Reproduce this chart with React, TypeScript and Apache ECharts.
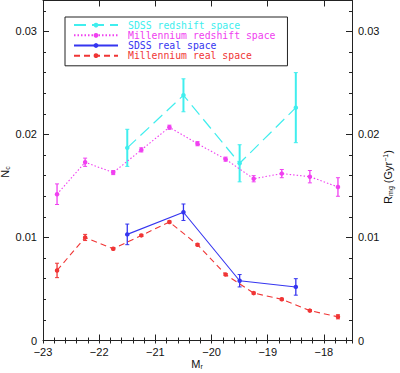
import React, { useEffect, useRef } from "react";
import * as echarts from "echarts";

const xMill = [-22.75, -22.25, -21.75, -21.25, -20.75, -20.25, -19.75, -19.25, -18.75, -18.25, -17.75];
const millRedshift = [0.0142, 0.0173, 0.0163, 0.0185, 0.0207, 0.0191, 0.0176, 0.0157, 0.0162, 0.0159, 0.0149];
const millRedshiftErr = [0.001, 0.0004, 0.0002, 0.0002, 0.0002, 0.0002, 0.0002, 0.0003, 0.0004, 0.0006, 0.0009];
const millReal = [0.0068, 0.01, 0.0089, 0.0102, 0.0115, 0.0093, 0.0064, 0.0046, 0.004, 0.0029, 0.0023];
const millRealErr = [0.0007, 0.0003, 0.0001, 0.0001, 0.0001, 0.0001, 0.0001, 0.0001, 0.0001, 0.0001, 0.0002];
const xSdss = [-21.5, -20.5, -19.5, -18.5];
const sdssRedshift = [0.0187, 0.0238, 0.0172, 0.0226];
const sdssRedshiftErr = [0.0018, 0.0016, 0.0018, 0.0034];
const sdssReal = [0.0103, 0.01245, 0.0058, 0.0052];
const sdssRealErr = [0.001, 0.0008, 0.0006, 0.0008];

const names = ["SDSS redshift space", "Millennium redshift space", "SDSS real space", "Millennium real space"];
const colors = ["#40EEEE", "#F040F0", "#3535F0", "#F03535"];

const xTitle = "M{sub|r}";
const yTitle = "N{sub|c}";
const y2Title = "R{sub|mg} (Gyr{sup|\u22121})";

const FONT = "Liberation Sans";
const LEGEND_FONT = "DejaVu Sans Mono";
const AXIS_COLOR = "#222";
const TEXT_COLOR = "#111";

function fmtY(v: number) {
  if (Math.abs(v) < 1e-9) return "0";
  return v.toFixed(2);
}
function fmtX(v: number) {
  return String(Math.round(v)).replace("-", "\u2212");
}

const rich = {
  sub: { fontSize: 7, fontFamily: FONT, fill: TEXT_COLOR, color: TEXT_COLOR, verticalAlign: "bottom", padding: [5, 0, 0, 0] },
  sup: { fontSize: 7, fontFamily: FONT, fill: TEXT_COLOR, color: TEXT_COLOR, verticalAlign: "top", padding: [0, 0, 5, 0] },
};

export default function App() {
  const ref = useRef<HTMLDivElement>(null);
  useEffect(() => {
    if (!ref.current) return;
    const chart = echarts.init(ref.current, null, { renderer: "svg" });

    const pairs = (xs: number[], ys: number[]) => xs.map((x, i) => [x, ys[i]]);
    const triples = (xs: number[], ys: number[], es: number[]) => xs.map((x, i) => [x, ys[i], es[i]]);

    const errSeries = (data: number[][], color: string, width: number) => ({
      type: "custom",
      xAxisIndex: 0,
      yAxisIndex: 0,
      silent: true,
      z: 3,
      data,
      renderItem: (params: any, api: any) => {
        const x = api.value(0);
        const y = api.value(1);
        const e = api.value(2);
        const lo = api.coord([x, y - e]);
        const hi = api.coord([x, y + e]);
        const cap = 2;
        const style = { stroke: color, lineWidth: width };
        return {
          type: "group",
          children: [
            { type: "line", shape: { x1: lo[0], y1: lo[1], x2: hi[0], y2: hi[1] }, style },
            { type: "line", shape: { x1: lo[0] - cap, y1: lo[1], x2: lo[0] + cap, y2: lo[1] }, style: { stroke: color, lineWidth: 1 } },
            { type: "line", shape: { x1: hi[0] - cap, y1: hi[1], x2: hi[0] + cap, y2: hi[1] }, style: { stroke: color, lineWidth: 1 } },
          ],
        };
      },
    });

    const lineSeries = (name: string, data: number[][], color: string, type: any, width: number) => ({
      type: "line",
      name,
      xAxisIndex: 0,
      yAxisIndex: 0,
      data,
      symbol: "circle",
      symbolSize: 4.5,
      z: 4,
      itemStyle: { color },
      lineStyle: { color, width, type },
    });

    const majorX = (pos: "bottom" | "top", labels: boolean) => ({
      type: "value",
      gridIndex: 0,
      position: pos,
      min: -23,
      max: -17.5,
      interval: 1,
      axisLine: { show: true, onZero: false, lineStyle: { color: AXIS_COLOR, width: 1 } },
      axisTick: { show: true, inside: true, length: 6, lineStyle: { color: AXIS_COLOR } },
      axisLabel: {
        show: labels,
        formatter: fmtX,
        color: TEXT_COLOR,
        fontFamily: FONT,
        fontSize: 11,
        margin: 6,
        showMaxLabel: false,
      },
      splitLine: { show: false },
    });
    const minorX = (pos: "bottom" | "top") => ({
      type: "value",
      gridIndex: 1,
      position: pos,
      min: -23,
      max: -17.5,
      interval: 0.2,
      axisLine: { show: false },
      axisTick: { show: true, inside: true, length: 3, lineStyle: { color: AXIS_COLOR } },
      axisLabel: { show: false },
      splitLine: { show: false },
    });
    const majorY = (pos: "left" | "right") => ({
      type: "value",
      gridIndex: 0,
      position: pos,
      min: 0,
      max: 0.033,
      interval: 0.01,
      axisLine: { show: true, onZero: false, lineStyle: { color: AXIS_COLOR, width: 1 } },
      axisTick: { show: true, inside: true, length: 6, lineStyle: { color: AXIS_COLOR } },
      axisLabel: {
        formatter: fmtY,
        color: TEXT_COLOR,
        fontFamily: FONT,
        fontSize: 11,
        margin: 6,
        showMaxLabel: false,
      },
      splitLine: { show: false },
    });
    const minorY = (pos: "left" | "right") => ({
      type: "value",
      gridIndex: 1,
      position: pos,
      min: 0,
      max: 0.033,
      interval: 0.002,
      axisLine: { show: false },
      axisTick: { show: true, inside: true, length: 3, lineStyle: { color: AXIS_COLOR } },
      axisLabel: { show: false },
      splitLine: { show: false },
    });

    const gridBox = { left: 43, right: 48, top: 0.5, bottom: 32.5, containLabel: false, outerBoundsMode: "none" };

    const titleStyle = (text: string) => ({
      text,
      fill: TEXT_COLOR,
      fontFamily: FONT,
      fontSize: 11,
      align: "center",
      verticalAlign: "middle",
      rich,
    });

    chart.setOption({
      animation: false,
      backgroundColor: "#ffffff",
      grid: [gridBox, { ...gridBox }],
      xAxis: [majorX("bottom", true), majorX("top", false), minorX("bottom"), minorX("top")],
      yAxis: [majorY("left"), majorY("right"), minorY("left"), minorY("right")],
      graphic: [
        { type: "text", x: 197, y: 364, silent: true, style: titleStyle(xTitle) },
        { type: "text", x: 5, y: 172, rotation: Math.PI / 2, silent: true, style: titleStyle(yTitle) },
        { type: "text", x: 388, y: 177, rotation: Math.PI / 2, silent: true, style: titleStyle(y2Title) },
      ],
      legend: {
        orient: "vertical",
        left: 65,
        top: 17,
        padding: [3, 12, 5, 8],
        itemGap: 0,
        itemWidth: 44,
        itemHeight: 6,
        borderColor: "#222",
        borderWidth: 1,
        backgroundColor: "#fff",
        textStyle: { fontFamily: LEGEND_FONT, fontSize: 9.8, lineHeight: 10.2, padding: [0, 0, 0, 5] },
        data: names.map((n, i) => ({ name: n, textStyle: { color: colors[i] } })),
      },
      series: [
        errSeries(triples(xSdss, sdssRedshift, sdssRedshiftErr), colors[0], 2),
        lineSeries(names[0], pairs(xSdss, sdssRedshift), colors[0], [12, 6], 1.2),
        errSeries(triples(xMill, millRedshift, millRedshiftErr), colors[1], 1.3),
        lineSeries(names[1], pairs(xMill, millRedshift), colors[1], [1.5, 2], 1.1),
        errSeries(triples(xSdss, sdssReal, sdssRealErr), colors[2], 1.3),
        lineSeries(names[2], pairs(xSdss, sdssReal), colors[2], "solid", 1.1),
        errSeries(triples(xMill, millReal, millRealErr), colors[3], 1.3),
        lineSeries(names[3], pairs(xMill, millReal), colors[3], [6, 4], 1.1),
      ],
    });
    return () => chart.dispose();
  }, []);

  return (
    <div
      ref={ref}
      style={{ position: "absolute", left: 0, top: 0, width: 400, height: 373, background: "#fff" }}
    />
  );
}
